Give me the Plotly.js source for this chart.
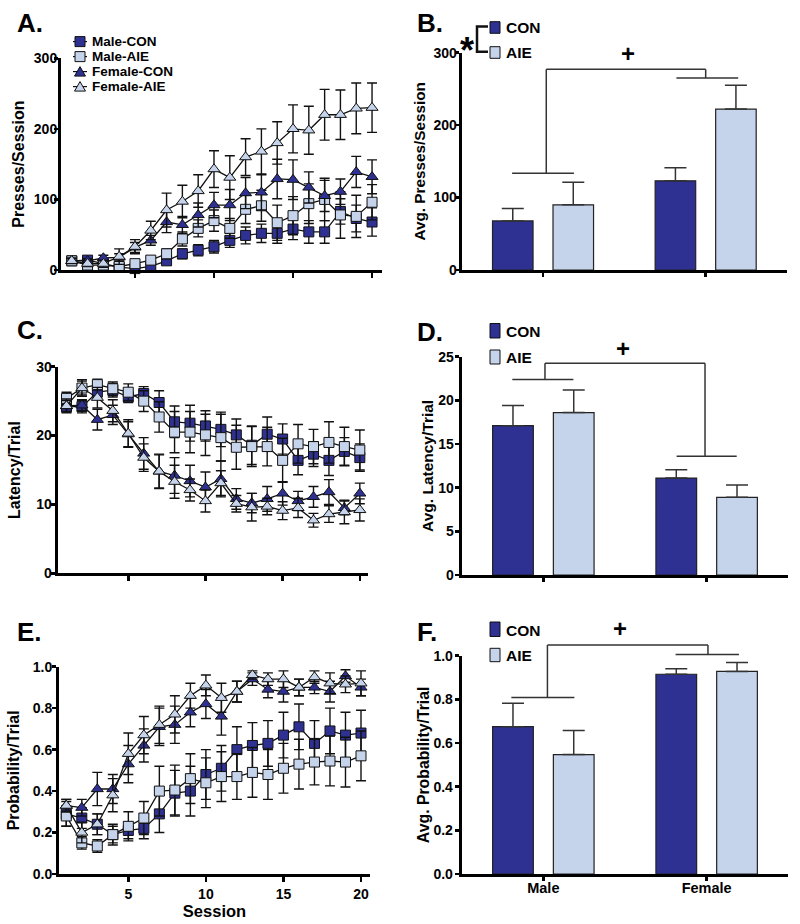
<!DOCTYPE html>
<html><head><meta charset="utf-8">
<script src="https://cdn.plot.ly/plotly-3.0.1.min.js"></script>
<style>html,body{margin:0;padding:0;background:#fff}#chart{width:800px;height:924px}</style>
</head><body><div id="chart"></div>
<script>
// ---------- data ----------
const session = [1,2,3,4,5,6,7,8,9,10,11,12,13,14,15,16,17,18,19,20];
const sessionTicks = [5,10,15,20];
const seriesNames = ['Male-CON','Male-AIE','Female-CON','Female-AIE'];
const groups = ['Male','Female'];
const barNames = ['CON','AIE'];

// A. Presses/Session
const pressMaleCON      = [13,14,9,4,2,5,13,23,28,33,42,49,52,52,58,54,54,83,73,68];
const pressMaleCONsem   = [3,3,3,2,2,3,4,7,8,9,10,12,13,14,15,16,16,18,19,20];
const pressMaleAIE      = [13,7,7,5,9,14,23,44,59,70,59,86,91,67,77,94,100,78,76,96];
const pressMaleAIEsem   = [3,3,3,2,3,4,7,10,12,15,14,20,22,25,27,28,30,33,30,25];
const pressFemaleCON    = [13,13,17,18,32,42,68,64,78,92,92,109,110,129,128,117,105,111,139,132];
const pressFemaleCONsem = [3,3,4,5,7,7,15,12,17,18,22,22,25,28,28,22,22,18,22,24];
const pressFemaleAIE    = [13,9,9,19,33,56,85,97,112,143,131,160,168,180,200,198,220,220,229,230];
const pressFemaleAIEsem = [4,4,5,11,10,13,24,23,23,26,31,26,32,30,34,34,36,35,36,35];

// C. Latency/Trial
const latMaleCON      = [24.2,24.2,26.3,26.6,25.6,26.1,24.8,22.0,21.8,21.4,20.9,20.1,18.6,20.2,19.5,16.4,17.3,16.4,17.7,16.8];
const latMaleCONsem   = [0.8,0.9,1.0,1.0,0.8,1.0,1.7,2.3,2.6,2.2,2.5,2.3,2.8,2.5,2.2,2.1,1.8,2.2,2.0,2.0];
const latMaleAIE      = [25.4,26.9,27.4,26.8,26.3,25.0,22.7,20.5,20.5,20.1,19.7,18.3,18.4,18.4,16.4,18.8,18.4,19.0,18.4,17.9];
const latMaleAIEsem   = [0.9,1.0,0.8,1.0,1.2,1.5,2.2,3.0,3.0,3.0,3.4,3.2,2.9,2.8,3.2,2.8,2.5,3.0,2.8,2.9];
const latFemaleCON    = [24.3,24.4,22.3,23.0,20.2,17.4,14.8,14.2,13.4,12.5,13.7,10.8,10.2,10.8,11.6,10.5,11.1,11.8,9.5,11.6];
const latFemaleCONsem = [0.8,0.8,1.5,1.4,1.8,2.3,2.4,2.6,2.3,2.2,2.6,1.5,1.4,1.8,1.7,1.4,1.5,1.8,1.0,1.5];
const latFemaleAIE    = [24.3,26.9,25.5,23.6,20.3,16.8,14.8,13.3,12.1,10.5,13.1,10.1,9.6,9.7,9.1,9.5,7.7,8.6,8.9,9.2];
const latFemaleAIEsem = [1.0,1.2,1.5,1.6,2.0,2.0,2.5,2.4,1.6,1.6,1.8,1.2,2.0,1.2,1.3,1.4,1.0,1.2,1.7,1.6];

// E. Probability/Trial
const probMaleCON      = [0.29,0.27,0.24,0.19,0.21,0.22,0.29,0.39,0.40,0.48,0.51,0.60,0.62,0.63,0.67,0.71,0.63,0.69,0.67,0.68];
const probMaleCONsem   = [0.06,0.05,0.05,0.04,0.04,0.05,0.09,0.11,0.12,0.12,0.11,0.11,0.11,0.11,0.11,0.11,0.11,0.11,0.11,0.11];
const probMaleAIE      = [0.28,0.15,0.135,0.19,0.23,0.27,0.40,0.405,0.46,0.44,0.47,0.47,0.49,0.48,0.51,0.53,0.54,0.545,0.54,0.57];
const probMaleAIEsem   = [0.05,0.03,0.03,0.05,0.07,0.08,0.12,0.12,0.12,0.12,0.12,0.11,0.12,0.12,0.12,0.12,0.11,0.12,0.12,0.12];
const probFemaleCON    = [0.33,0.32,0.41,0.41,0.53,0.62,0.71,0.72,0.78,0.82,0.76,0.88,0.94,0.89,0.88,0.90,0.90,0.88,0.955,0.90];
const probFemaleCONsem = [0.03,0.04,0.08,0.07,0.09,0.08,0.09,0.09,0.07,0.07,0.09,0.05,0.03,0.04,0.05,0.04,0.03,0.05,0.03,0.04];
const probFemaleAIE    = [0.33,0.20,0.24,0.38,0.58,0.67,0.72,0.77,0.86,0.91,0.85,0.88,0.96,0.94,0.94,0.90,0.95,0.92,0.915,0.92];
const probFemaleAIEsem = [0.03,0.05,0.05,0.08,0.10,0.09,0.09,0.09,0.06,0.05,0.07,0.05,0.02,0.03,0.04,0.04,0.03,0.05,0.04,0.06];

// B. Avg Presses/Session
const avgPressCON = [67.7,123];   const avgPressCONsem = [17,18];
const avgPressAIE = [90,222];     const avgPressAIEsem = [31,33];
// D. Avg Latency/Trial
const avgLatCON = [17.1,11.1];    const avgLatCONsem = [2.3,0.95];
const avgLatAIE = [18.6,8.9];     const avgLatAIEsem = [2.6,1.4];
// F. Avg Probability/Trial
const avgProbCON = [0.675,0.915]; const avgProbCONsem = [0.107,0.025];
const avgProbAIE = [0.547,0.928]; const avgProbAIEsem = [0.11,0.041];

// ---------- style ----------
const FONT = 'Liberation Sans, Arial, Helvetica, sans-serif';
const DARK = '#2e3192', LIGHT = '#c5d3eb', INK = '#111';
const W = 800, H = 924;
const px = v => v / W;
const py = v => 1 - v / H;

const styles = [
  {symbol:'square', size:10, color:DARK},
  {symbol:'square', size:10, color:LIGHT},
  {symbol:'triangle-up', size:10.5, color:DARK},
  {symbol:'triangle-up', size:10.5, color:LIGHT}
];

function lineTrace(i, y, sem, xa, ya) {
  return {type:'scatter', mode:'lines+markers', name:seriesNames[i], x:session, y:y,
    xaxis:xa, yaxis:ya, cliponaxis:false, showlegend:false, hoverinfo:'skip',
    line:{color:INK, width:1.3},
    marker:{symbol:styles[i].symbol, size:styles[i].size, color:styles[i].color, line:{color:INK, width:1}},
    error_y:{type:'data', array:sem, color:INK, thickness:1.4, width:5}};
}
function barTrace(name, y, sem, color, xa, ya) {
  return {type:'bar', name:name, x:groups, y:y, xaxis:xa, yaxis:ya, showlegend:false, hoverinfo:'skip',
    marker:{color:color, line:{color:'#222', width:1.2}},
    error_y:{type:'data', symmetric:false, array:sem, arrayminus:sem.map(() => 0), color:'#333', thickness:1.5, width:11}};
}

const data = [
  lineTrace(0, pressMaleCON, pressMaleCONsem, 'x', 'y'),
  lineTrace(1, pressMaleAIE, pressMaleAIEsem, 'x', 'y'),
  lineTrace(2, pressFemaleCON, pressFemaleCONsem, 'x', 'y'),
  lineTrace(3, pressFemaleAIE, pressFemaleAIEsem, 'x', 'y'),
  barTrace('CON', avgPressCON, avgPressCONsem, DARK, 'x2', 'y2'),
  barTrace('AIE', avgPressAIE, avgPressAIEsem, LIGHT, 'x2', 'y2'),
  lineTrace(0, latMaleCON, latMaleCONsem, 'x3', 'y3'),
  lineTrace(1, latMaleAIE, latMaleAIEsem, 'x3', 'y3'),
  lineTrace(2, latFemaleCON, latFemaleCONsem, 'x3', 'y3'),
  lineTrace(3, latFemaleAIE, latFemaleAIEsem, 'x3', 'y3'),
  barTrace('CON', avgLatCON, avgLatCONsem, DARK, 'x4', 'y4'),
  barTrace('AIE', avgLatAIE, avgLatAIEsem, LIGHT, 'x4', 'y4'),
  lineTrace(0, probMaleCON, probMaleCONsem, 'x5', 'y5'),
  lineTrace(1, probMaleAIE, probMaleAIEsem, 'x5', 'y5'),
  lineTrace(2, probFemaleCON, probFemaleCONsem, 'x5', 'y5'),
  lineTrace(3, probFemaleAIE, probFemaleAIEsem, 'x5', 'y5'),
  barTrace('CON', avgProbCON, avgProbCONsem, DARK, 'x6', 'y6'),
  barTrace('AIE', avgProbAIE, avgProbAIEsem, LIGHT, 'x6', 'y6')
];

const tickFont = {family:FONT, size:14, weight:'bold', color:'#000'};
const titleFont = {family:FONT, size:16, weight:'bold', color:'#000'};
const axBase = {showline:true, linewidth:3, linecolor:'#000', ticks:'outside', ticklen:5, tickwidth:2.5,
  tickcolor:'#000', showgrid:false, zeroline:false, tickfont:tickFont, fixedrange:true};

function xLine(dom, range, anchor, labels, title) {
  const a = Object.assign({}, axBase, {domain:[px(dom[0]), px(dom[1])], range:range, anchor:anchor,
    tickmode:'array', tickvals:sessionTicks, showticklabels:labels});
  if (title) a.title = {text:title, font:Object.assign({}, titleFont, {size:16.5}), standoff:5};
  return a;
}
function xBar(dom, anchor, labels, tls) {
  return Object.assign({}, axBase, {domain:[px(dom[0]), px(dom[1])], range:[-0.5,1.5], anchor:anchor,
    type:'category', ticklen:4, showticklabels:labels, ticklabelstandoff:tls || 0,
    tickfont:Object.assign({}, tickFont, {size:14.5})});
}
function yAx(dom, range, dtick, fmt, anchor, title, tsize, standoff, tls) {
  return Object.assign({}, axBase, {domain:[py(dom[1]), py(dom[0])], range:range, anchor:anchor,
    dtick:dtick, tick0:0, tickformat:fmt, ticklen:4, ticklabelstandoff:tls,
    title:{text:title, font:Object.assign({}, titleFont, {size:tsize}), standoff:standoff}});
}

// ---------- decorations ----------
const shapes = [];
const annotations = [];
function txt(t, x, y, size, anchor) {
  annotations.push({text:t, xref:'paper', yref:'paper', x:px(x), y:py(y), xanchor:anchor || 'left',
    yanchor:'middle', showarrow:false, borderpad:0,
    font:{family:FONT, size:size, weight:'bold', color:'#000'}});
}
function rectPx(x0, y0, x1, y1, fill) {
  shapes.push({type:'rect', xref:'paper', yref:'paper', x0:px(x0), x1:px(x1), y0:py(y1), y1:py(y0),
    fillcolor:fill, line:{color:INK, width:1}});
}
function linePx(x0, y0, x1, y1, w) {
  shapes.push({type:'line', xref:'paper', yref:'paper', x0:px(x0), x1:px(x1), y0:py(y0), y1:py(y1),
    line:{color:INK, width:w}});
}
function triPx(cx, cy, fill) {
  shapes.push({type:'path', xref:'paper', yref:'paper', fillcolor:fill, line:{color:INK, width:1},
    path:'M' + px(cx-5.5) + ',' + py(cy+4.5) + ' L' + px(cx+5.5) + ',' + py(cy+4.5) + ' L' + px(cx) + ',' + py(cy-5) + ' Z'});
}
// bracket lines in data x / domain y
function bLine(xa, range, x0, y0, x1, y1) {
  const f = v => (v - range[0]) / (range[1] - range[0]);
  shapes.push({type:'line', xref:xa, yref:'y' + xa.slice(1) + ' domain', x0:x0, x1:x1, y0:f(y0), y1:f(y1),
    line:{color:'#333', width:1.5}});
}
function bracket(xa, range, xl, xr, yTop, maleY, maleX, femY, femX) {
  bLine(xa, range, maleX[0], maleY, maleX[1], maleY);
  bLine(xa, range, xl, maleY, xl, yTop);
  bLine(xa, range, xl, yTop, xr, yTop);
  bLine(xa, range, xr, yTop, xr, femY);
  bLine(xa, range, femX[0], femY, femX[1], femY);
}

// panel letters
txt('A.', 16, 23, 26); txt('B.', 416, 23, 26);
txt('C.', 16, 330, 26); txt('D.', 416, 332, 26);
txt('E.', 16, 631.5, 26); txt('F.', 416, 631.5, 26);

// legend A
const legRows = [41.6, 56.6, 71.6, 86.6];
legRows.forEach((cy, i) => {
  linePx(73, cy, 87, cy, 1.2);
  if (styles[i].symbol === 'square') rectPx(75, cy-5, 85, cy+5, styles[i].color);
  else triPx(80, cy, styles[i].color);
  txt(seriesNames[i], 91, cy, 13.5);
});

// legend B with significance bracket
rectPx(490, 21.7, 500, 33.3, DARK); rectPx(490, 46.7, 500, 58.3, LIGHT);
txt(barNames[0], 505, 27.5, 15.5); txt(barNames[1], 505, 52.5, 15.5);
shapes.push({type:'path', xref:'paper', yref:'paper', line:{color:INK, width:2.5},
  path:'M' + px(488) + ',' + py(26.5) + ' L' + px(477) + ',' + py(26.5) + ' L' + px(477) + ',' + py(51.7) + ' L' + px(488) + ',' + py(51.7)});
txt('*', 467, 50, 36, 'center');
// legend D
rectPx(490, 323.5, 500, 338, DARK); rectPx(490, 350, 500, 364, LIGHT);
txt(barNames[0], 505, 331.7, 15.5); txt(barNames[1], 505, 357.7, 15.5);
// legend F
rectPx(490, 622, 500, 636.5, DARK); rectPx(490, 648.3, 500, 661.7, LIGHT);
txt(barNames[0], 505, 630, 15.5); txt(barNames[1], 505, 655, 15.5);

// group-effect brackets and plus signs
bracket('x2', [0,300], 0.02, 1.0, 277, 133.5, [-0.19,0.19], 265, [0.82,1.2]);
bracket('x4', [0,25], 0.01, 0.99, 24.25, 22.4, [-0.19,0.184], 13.6, [0.816,1.184]);
bracket('x6', [0,1], 0.025, 1.008, 1.049, 0.809, [-0.196,0.19], 1.006, [0.81,1.198]);
txt('+', 627.7, 53.5, 24, 'center');
txt('+', 623.3, 348.5, 24, 'center');
txt('+', 620, 628.5, 24, 'center');

const layout = {
  width:W, height:H, margin:{l:0, r:0, t:0, b:0},
  paper_bgcolor:'#fff', plot_bgcolor:'rgba(0,0,0,0)', showlegend:false,
  font:{family:FONT, color:'#000'},
  barmode:'group', bargap:0.256, bargroupgap:0.33,
  xaxis:  xLine([61, 382], [0.32, 20.63], 'y', false),
  yaxis:  yAx([58.3, 270], [0,300], 100, '', 'x', 'Presses/Session', 16, 6, -6),
  xaxis2: xBar([461.7, 787], 'y2', false),
  yaxis2: yAx([52.6, 270], [0,300], 100, '', 'x2', 'Avg. Presses/Session', 15.3, 4.5, -5),
  xaxis3: xLine([57.7, 368], [0.43, 20.53], 'y3', false),
  yaxis3: yAx([366.7, 573.3], [0,30], 10, '', 'x3', 'Latency/Trial', 16, 12, -4),
  xaxis4: xBar([461.7, 788.3], 'y4', false),
  yaxis4: yAx([356.7, 575], [0,25], 5, '', 'x4', 'Avg. Latency/Trial', 15.5, 1, -2),
  xaxis5: xLine([59, 370], [0.53, 20.58], 'y5', true, 'Session'),
  yaxis5: yAx([666.7, 874], [0,1], 0.2, '.1f', 'x5', 'Probability/Trial', 16, 10, -3),
  xaxis6: xBar([461.7, 788.3], 'y6', true, -5),
  yaxis6: yAx([655.7, 874], [0,1], 0.2, '.1f', 'x6', 'Avg. Probability/Trial', 15.8, 0, -1),
  shapes:shapes, annotations:annotations
};

Plotly.newPlot('chart', data, layout, {staticPlot:true, displayModeBar:false});
</script>
</body></html>
